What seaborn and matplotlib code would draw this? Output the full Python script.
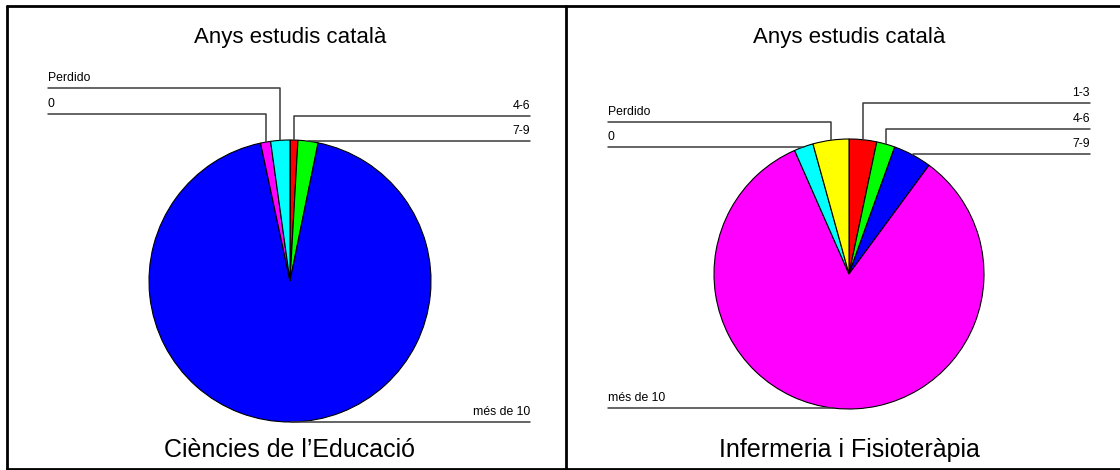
import numpy as np
import seaborn as sns
import matplotlib.pyplot as plt

# data (percent)
cats_edu = ["4-6", "7-9", "més de 10", "0", "Perdido"]
pct_edu = [0.9, 2.3, 93.5, 1.15, 2.2]
cats_inf = ["1-3", "4-6", "7-9", "més de 10", "0", "Perdido"]
pct_inf = [3.3, 2.2, 4.6, 83.3, 2.3, 4.3]
title_top = "Anys estudis català"
names = ["Ciències de l\u2019Educació", "Infermeria i Fisioteràpia"]

# spss-ish palette, assigned in category order
pal = ["#FF0000", "#00FF00", "#0000FF", "#FF00FF", "#00FFFF", "#FFFF00"]

# layout in pixels (y from top)
W, H = 1120, 470
rows_edu = [116, 141, 422, 114, 88]
rows_inf = [103, 129, 154, 408, 147, 122]

sns.set_theme(style="white")
plt.rcParams["font.family"] = ["Liberation Sans", "DejaVu Sans"]
plt.rcParams["text.color"] = "black"

fig = plt.figure(figsize=(W / 100, H / 100), dpi=100)
ax = fig.add_axes([0, 0, 1, 1])


def draw(cats, vals, rows, cx, cy, r, xl, xr, title, name):
    wedges, _ = ax.pie(vals, colors=sns.color_palette(pal[:len(vals)]),
                       startangle=90, counterclock=False,
                       center=(cx, H - cy), radius=r,
                       wedgeprops=dict(edgecolor="black", linewidth=0.8))
    for w, lab, ry in zip(wedges, cats, rows):
        a = np.deg2rad((w.theta1 + w.theta2) / 2)
        axx = cx + r * np.cos(a)
        ayy = H - cy + r * np.sin(a)
        y = H - ry
        if axx < cx:
            ax.plot([xl, axx, axx], [y, y, ayy], color="#3a3a3a", lw=1.1)
            ax.text(xl, y + 4, lab, fontsize=8.8, ha="left", va="bottom")
        else:
            ax.plot([xr, axx, axx], [y, y, ayy], color="#3a3a3a", lw=1.1)
            ax.text(xr, y + 4, lab, fontsize=8.8, ha="right", va="bottom")
    ax.text(cx, H - 38, title, fontsize=16, ha="center", va="center")
    ax.text(cx, H - 450, name, fontsize=18, ha="center", va="center")


draw(cats_edu, pct_edu, rows_edu, 290, 281, 141, 48, 530, title_top, names[0])
draw(cats_inf, pct_inf, rows_inf, 849, 274, 135, 608, 1090, title_top, names[1])

# panel frames
k = dict(color="black", lw=2)
ax.plot([7, W], [H - 6, H - 6], **k)
ax.plot([7, W], [H - 469, H - 469], **k)
ax.plot([7, 7], [H - 6, H - 469], **k)
ax.plot([566, 566], [H - 6, H - 469], **k)

ax.set_xlim(0, W)
ax.set_ylim(0, H)
ax.set_aspect("auto")
ax.axis("off")

fig.savefig("out.png", dpi=100)
